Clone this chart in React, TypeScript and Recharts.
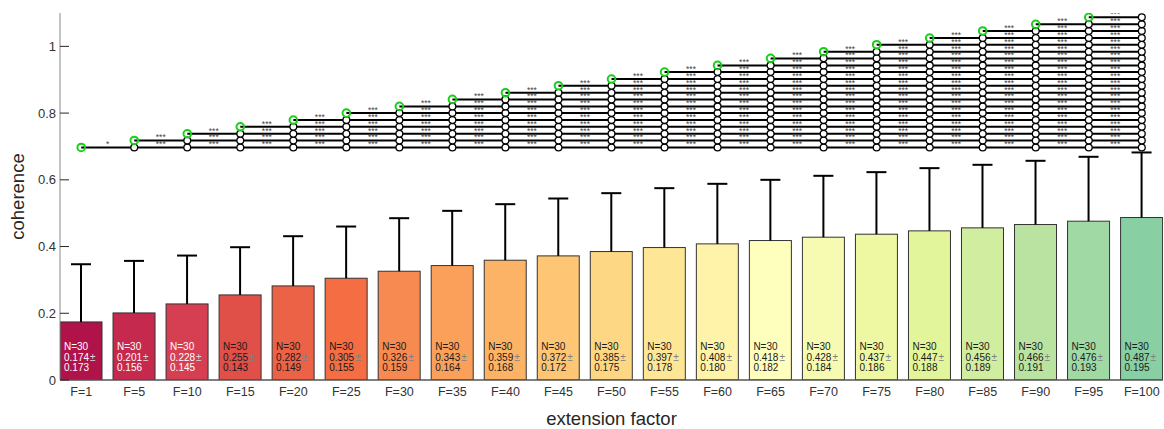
import React from 'react';
import { ComposedChart, Bar, Line, Scatter, XAxis, YAxis, LabelList } from 'recharts';

// extension factors on the x axis
const factors = [1, 5, 10, 15, 20, 25, 30, 35, 40, 45, 50, 55, 60, 65, 70, 75, 80, 85, 90, 95, 100];
const means = [0.174, 0.201, 0.228, 0.255, 0.282, 0.305, 0.326, 0.343, 0.359, 0.372, 0.385, 0.397, 0.408, 0.418, 0.428, 0.437, 0.447, 0.456, 0.466, 0.476, 0.487];
const stds = [0.173, 0.156, 0.145, 0.143, 0.149, 0.155, 0.159, 0.164, 0.168, 0.172, 0.175, 0.178, 0.18, 0.182, 0.184, 0.186, 0.188, 0.189, 0.191, 0.193, 0.195];
const counts = [30, 30, 30, 30, 30, 30, 30, 30, 30, 30, 30, 30, 30, 30, 30, 30, 30, 30, 30, 30, 30];
const barColors = [
  '#b0124a', '#c52a4e', '#d63f51', '#e05049', '#ec6247', '#f46d43', '#f78a50',
  '#fba05b', '#fdb366', '#fdc574', '#fed785', '#fee697', '#fef3a8', '#ffffbd',
  '#f7fbb1', '#eef8a3', '#e3f59a', '#d1eda0', '#bae3a1', '#a0d9a3', '#88cfa3',
];

// one significance line per reference bar, drawn at these heights
const sigLevels = [0.697, 0.718, 0.738, 0.759, 0.779, 0.8, 0.82, 0.841, 0.861, 0.882, 0.902, 0.923, 0.943, 0.964, 0.984, 1.005, 1.025, 1.046, 1.066, 1.087];
// stars between neighbouring columns of each line: '1' = *, '3' = ***
const sigCodes = [
  '13333333333333333333',
  '3333333333333333333',
  '333333333333333333',
  '33333333333333333',
  '3333333333333333',
  '333333333333333',
  '33333333333333',
  '3333333333333',
  '333333333333',
  '33333333333',
  '3333333333',
  '333333333',
  '33333333',
  '3333333',
  '333333',
  '33333',
  '3333',
  '333',
  '33',
  '3',
];
const yTicks = [0, 0.2, 0.4, 0.6, 0.8, 1];

const starText: Record<string, string> = { '1': '*', '3': '***' };

const rows = factors.map((f, i) => {
  const row: Record<string, number | null> = { x: i + 1, mean: means[i], sd: stds[i] };
  sigLevels.forEach((lv, k) => {
    row[`s${k}`] = i >= k ? lv : null;
  });
  return row;
});

const starPoints = sigCodes.flatMap((code, k) =>
  code.split('').map((c, j) => ({ x: k + j + 1.5, y: sigLevels[k], t: starText[c] }))
);

const WhiskerBar = (props: any) => {
  const { x, y, width, height, payload, index } = props;
  const i = index ?? payload.x - 1;
  const unit = height / payload.mean;
  const top = y - payload.sd * unit;
  const cx = x + width / 2;
  return (
    <g>
      <rect x={x} y={y} width={width} height={height} fill={barColors[i]} stroke="#333" strokeWidth={1} />
      <line x1={cx} y1={y} x2={cx} y2={top} stroke="#000" strokeWidth={2} />
      <line x1={cx - 10} x2={cx + 10} y1={top} y2={top} stroke="#000" strokeWidth={2} />
    </g>
  );
};

const BarText = (props: any) => {
  const vb = props.viewBox ?? props;
  const { x, y, height } = vb;
  const i = props.index;
  if (i == null) return null;
  const light = i < 3;
  const fg = light ? '#fff' : '#1a1a1a';
  const pm = light ? '#d9d9d9' : '#808080';
  const bottom = y + height;
  const tx = x + 4;
  return (
    <g fontSize={10}>
      <text x={tx} y={bottom - 30.5} fill={fg}>N={counts[i]}</text>
      <text x={tx} y={bottom - 19.5} fill={fg}>
        {means[i].toFixed(3)}
        <tspan fill={pm} dx={1}>±</tspan>
      </text>
      <text x={tx} y={bottom - 9} fill={fg}>{stds[i].toFixed(3)}</text>
    </g>
  );
};

const YTick = (props: any) => {
  const { x, y, payload } = props;
  return (
    <g>
      <line x1={x + 4} x2={x + 13} y1={y} y2={y} stroke="#262626" strokeWidth={1} />
      <text x={x} y={y} dy={4.5} textAnchor="end" fill="#333" fontSize={13}>
        {payload.value}
      </text>
    </g>
  );
};

const makeDot = (k: number) => (p: any) => {
  const { cx, cy, index } = p;
  const key = `d${k}-${index}`;
  if (cx == null || cy == null) return <g key={key} />;
  if (index === k) {
    return <circle key={key} cx={cx} cy={cy} r={3.8} fill="none" stroke="#16cf16" strokeWidth={2} />;
  }
  return <circle key={key} cx={cx} cy={cy} r={3.4} fill="#fff" stroke="#000" strokeWidth={1.3} />;
};

const StarShape = (p: any) => (
  <text x={p.cx} y={p.cy} textAnchor="middle" fontSize={8.5} fill="#444">
    {p.payload.t}
  </text>
);

const App: React.FC = () => {
  return (
    <div style={{ position: 'absolute', left: 0, top: 0, fontFamily: '"Liberation Sans", Arial, sans-serif' }}>
      <ComposedChart
        width={1164}
        height={429}
        data={rows}
        margin={{ top: 13, right: 1, bottom: 0, left: 0 }}
        barCategoryGap="10%"
      >
        <XAxis
          type="number"
          dataKey="x"
          domain={[0.6, 21.4]}
          ticks={factors.map((_, i) => i + 1)}
          interval={0}
          allowDataOverflow
          tickFormatter={(v: number) => `F=${factors[v - 1]}`}
          height={49}
          tickSize={0}
          tickMargin={7}
          tickLine={false}
          axisLine={{ stroke: '#555', strokeWidth: 1.5 }}
          tick={{ fill: '#333', fontSize: 12.5 }}
          label={{
            value: 'extension factor',
            content: (p: any) => (
              <text
                x={p.viewBox.x + p.viewBox.width / 2}
                y={p.viewBox.y + 44.5}
                textAnchor="middle"
                fontSize={18.5}
                fill="#262626"
              >
                extension factor
              </text>
            ),
          }}
        />
        <XAxis xAxisId="mid" type="number" dataKey="x" domain={[0.6, 21.4]} allowDataOverflow hide />
        <YAxis
          type="number"
          domain={[0, 1.1]}
          ticks={yTicks}
          allowDataOverflow
          width={60}
          tickSize={0}
          tickMargin={4}
          tickLine={false}
          axisLine={{ stroke: '#8a8a8a' }}
          tick={<YTick />}
          label={{
            value: 'coherence',
            content: (p: any) => {
              const cx = p.viewBox.x + 23.5;
              const cy = p.viewBox.y + p.viewBox.height / 2;
              return (
                <text
                  x={cx}
                  y={cy}
                  transform={`rotate(-90, ${cx}, ${cy})`}
                  textAnchor="middle"
                  fontSize={18.5}
                  fill="#262626"
                >
                  coherence
                </text>
              );
            },
          }}
        />
        <Bar dataKey="mean" shape={<WhiskerBar />} isAnimationActive={false}>
          <LabelList dataKey="mean" content={<BarText />} />
        </Bar>
        {sigLevels.map((_, k) => (
          <Line
            key={`s${k}`}
            dataKey={`s${k}`}
            stroke="#000"
            strokeWidth={2}
            dot={makeDot(k)}
            activeDot={false}
            connectNulls={false}
            isAnimationActive={false}
          />
        ))}
        <Scatter
          xAxisId="mid"
          data={starPoints}
          dataKey="y"
          shape={<StarShape />}
          isAnimationActive={false}
        />
      </ComposedChart>
    </div>
  );
};

export default App;
